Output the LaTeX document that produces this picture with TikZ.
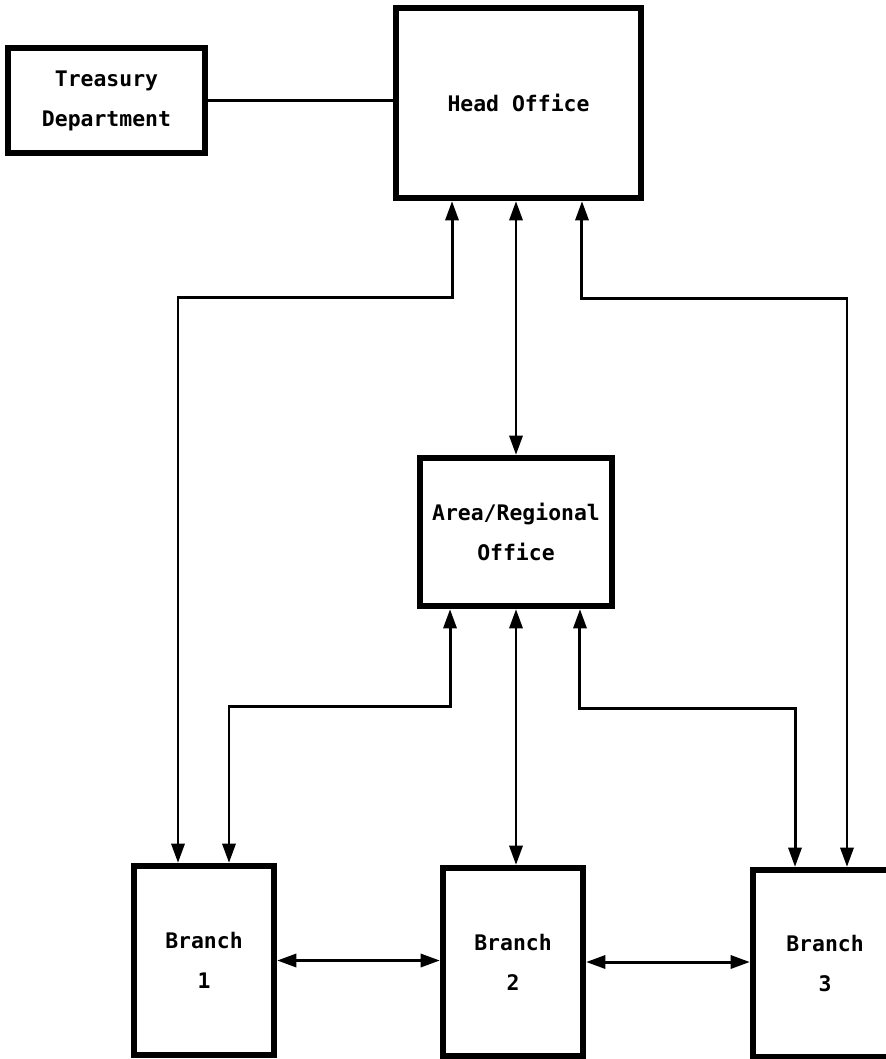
\documentclass[tikz,border=0pt]{standalone}
\usepackage{fontspec}
\newfontfamily\boxfont{DejaVu Sans Mono}
\usetikzlibrary{arrows.meta, positioning}
\tikzset{
   officebox/.style={
     draw=black, line width=3.6pt, align=center,
     font=\boxfont\bfseries\fontsize{12.2}{22.7}\selectfont
   },
   branchbox/.style={
      officebox,
      minimum width=2.8cm, minimum height=3.78cm
   },
   plainline/.style={line width=1.7pt},
   dualline/.style={plainline, {Triangle[length=11pt,width=7.5pt]}-{Triangle[length=11pt,width=7.5pt]}}
}
\begin{document}
\begin{tikzpicture}[x=0.02cm, y=-0.02cm]
            \clip (0,0) rectangle (886,1059);
            \node[officebox, minimum width=3.94cm, minimum height=2.1cm](treasury) at (106.5,100.5) {Treasury\\Department};
            \node[officebox, minimum width=4.9cm, minimum height=3.8cm](head) at (518.5,103) {Head Office};
            \node[officebox, minimum width=3.84cm, minimum height=2.96cm](area) at (516,532) {Area/Regional\\Office};
            \node[branchbox](branch1) at (204,960.5) {Branch\\1};
            \node[branchbox, minimum height=3.76cm](branch2) at (513,962) {Branch\\2};
            \node[branchbox, minimum width=2.88cm, minimum height=3.74cm](branch3) at (825,963.5) {Branch\\3};

            \draw[plainline] (treasury.east) -- (treasury.east -| head.west);
            \draw[dualline] ([xshift=-1.33cm]head.south) -- ++(0,-1.92cm) -| ([xshift=-0.52cm]branch1.north);
            \draw[dualline] (area.north |- head.south) -- (area.north);
            \draw[dualline] ([xshift=1.27cm]head.south) -- ++(0,-1.94cm) -| ([xshift=0.44cm]branch3.north);
            \draw[dualline] ([xshift=-1.32cm]area.south) -- ++(0,-1.94cm) -| ([xshift=0.5cm]branch1.north);
            \draw[dualline] (area.south) -- (area.south |- branch2.north);
            \draw[dualline] ([xshift=1.28cm]area.south) -- ++(0,-1.98cm) -| ([xshift=-0.6cm]branch3.north);
            \draw[dualline] (branch1.east) -- (branch1.east -| branch2.west);
            \draw[dualline] (branch2.east) -- (branch2.east -| branch3.west);
\end{tikzpicture}
\end{document}
